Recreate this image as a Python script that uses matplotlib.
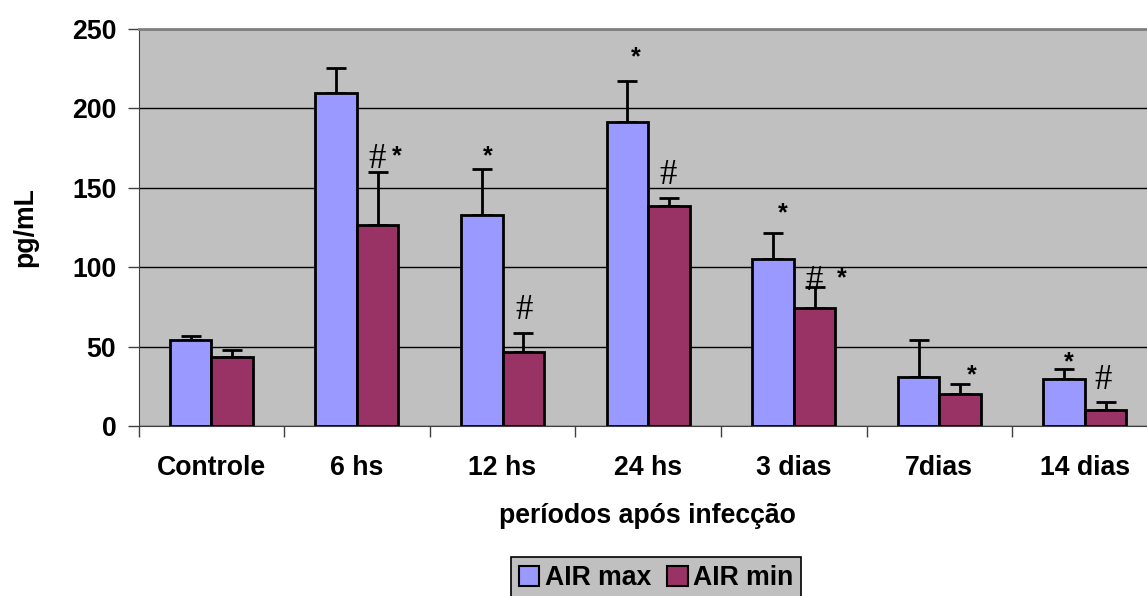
import matplotlib
matplotlib.use("Agg")
import matplotlib.pyplot as plt
import numpy as np
from matplotlib.patches import Patch

categories = ["Controle", "6 hs", "12 hs", "24 hs", "3 dias", "7dias", "14 dias"]
air_max = [54.1, 209.4, 132.9, 191.6, 105.2, 31.0, 29.5]
air_max_err = [2.7, 15.8, 28.9, 25.6, 16.2, 23.1, 6.3]
air_min = [43.6, 126.6, 46.7, 138.7, 74.2, 20.1, 10.1]
air_min_err = [4.4, 33.4, 11.8, 4.9, 13.6, 6.3, 5.0]

# annotations: (category index, x offset, y value, text)
annot_cat = [1, 1, 2, 2, 3, 3, 4, 4, 4, 5, 6, 6]
annot_dx = [0.138, 0.277, -0.104, 0.15, -0.083, 0.135, -0.078, 0.141, 0.332, 0.222, -0.114, 0.122]
annot_y = [168, 170, 170, 73, 232, 158, 134, 91, 93, 32, 40, 29]
annot_txt = ["#", "*", "*", "#", "*", "#", "*", "#", "*", "*", "*", "#"]

W, H = 1147, 596
fig = plt.figure(figsize=(W / 100, H / 100), dpi=100)
left, right, top, bottom = 138.5, 1157.7, 28.7, 426.3
ax = fig.add_axes([left / W, 1 - bottom / H, (right - left) / W, (bottom - top) / H])
ax.set_facecolor("#c0c0c0")

x = np.arange(len(categories))
w = 1 / 3.5
blue = "#9999ff"
red = "#993366"
ax.bar(x - w / 2, air_max, w, color=blue, edgecolor="black", linewidth=2, zorder=3)
ax.bar(x + w / 2, air_min, w, color=red, edgecolor="black", linewidth=2, zorder=3)
zeros = np.zeros(len(categories))
ax.errorbar(x - w / 2, air_max, yerr=[zeros, air_max_err], fmt="none", ecolor="black",
            elinewidth=2, capsize=7, capthick=2, zorder=2)
ax.errorbar(x + w / 2, air_min, yerr=[zeros, air_min_err], fmt="none", ecolor="black",
            elinewidth=2, capsize=7, capthick=2, zorder=2)

for c, dx, yv, t in zip(annot_cat, annot_dx, annot_y, annot_txt):
    if t == "*":
        ax.text(c + dx, yv, t, ha="center", va="center", fontsize=18, fontweight="bold",
                family="Liberation Sans", color="black", zorder=5)
    else:
        ax.text(c + dx, yv, t, ha="center", va="center", fontsize=25,
                family="Liberation Serif", color="black", zorder=5)

ax.set_xlim(-0.5, len(categories) - 0.5)
ax.set_ylim(0, 250)
ax.set_yticks([0, 50, 100, 150, 200, 250])
ax.yaxis.grid(True, color="black", linewidth=1, zorder=0)
ax.set_axisbelow(True)

ax.set_xticks(np.arange(-0.5, len(categories), 1.0))
ax.set_xticklabels([])
ax.set_xticks(x, minor=True)
ax.set_xticklabels(categories, minor=True)
ax.tick_params(axis="x", which="major", length=8, width=1, color="#404040", direction="out")
ax.tick_params(axis="x", which="minor", length=0, pad=20.5)
ax.tick_params(axis="y", length=8, width=1, color="#404040", direction="out", pad=8)

FS = 19.2
for lab in ax.get_xticklabels(minor=True) + ax.get_yticklabels():
    lab.set_fontfamily("Liberation Sans")
    lab.set_fontweight("bold")
    lab.set_fontsize(FS)

ax.spines["top"].set_color("#808080")
ax.spines["top"].set_linewidth(2)
ax.spines["right"].set_visible(False)
ax.spines["left"].set_color("#404040")
ax.spines["bottom"].set_color("#404040")

fig.text(25.5 / W, 1 - 227 / H, "pg/mL", rotation=90, ha="center", va="center",
         fontsize=FS, fontweight="bold", family="Liberation Sans")
fig.text(647 / W, 1 - 516 / H, "períodos após infecção", ha="center", va="center",
         fontsize=FS, fontweight="bold", family="Liberation Sans")

handles = [Patch(facecolor=blue, edgecolor="black", linewidth=1.5, label="AIR max"),
           Patch(facecolor=red, edgecolor="black", linewidth=1.5, label="AIR min")]
leg = fig.legend(handles=handles, loc="upper left", bbox_to_anchor=(510.7 / W, 1 - 557.3 / H),
                 ncol=2, frameon=True, fancybox=False, edgecolor="black",
                 facecolor="#c0c0c0", framealpha=1,
                 prop={"family": "Liberation Sans", "weight": "bold", "size": FS},
                 handlelength=0.78, handleheight=0.78, handletextpad=0.2,
                 columnspacing=0.6, borderpad=0.3, borderaxespad=0)
leg.get_frame().set_linewidth(1.2)

fig.savefig("out.png", dpi=100)
